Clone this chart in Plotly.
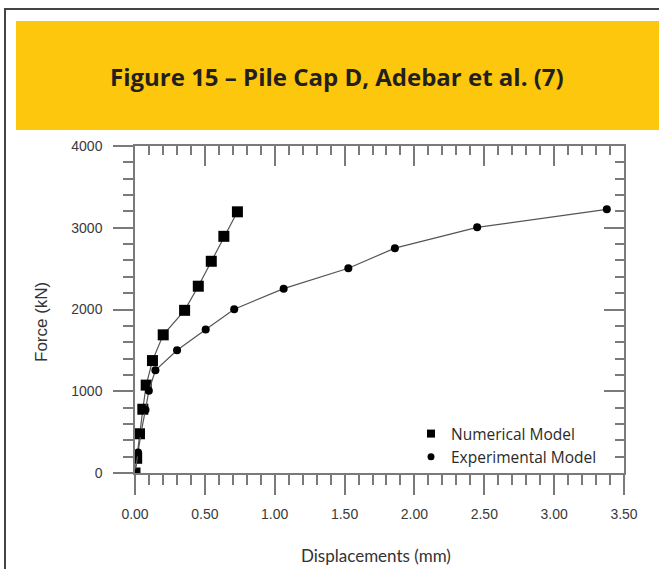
import plotly.graph_objects as go

# ---- data ----
num_disp = [0.0, 0.012, 0.032, 0.056, 0.080, 0.125, 0.202, 0.355, 0.453, 0.546, 0.636, 0.733]
num_force = [0, 180, 480, 780, 1075, 1375, 1690, 1990, 2285, 2590, 2895, 3195]

exp_disp = [0.0, 0.022, 0.043, 0.075, 0.099, 0.146, 0.301, 0.506, 0.710, 1.064, 1.527, 1.860, 2.449, 3.377]
exp_force = [0, 250, 490, 775, 1005, 1257, 1502, 1755, 2004, 2255, 2505, 2750, 3005, 3225]

series_names = ["Numerical Model", "Experimental Model"]
title_text = "Figure 15 – Pile Cap D, Adebar et al. (7)"
x_title = "Displacements (mm)"
y_title = "Force (kN)"

W, H = 659, 569
L, R, T, B = 135, 35, 146, 96
PW, PH = W - L - R, H - T - B


def px(x):
    return (x - L) / PW


def py(y):
    return (H - B - y) / PH


AX = "#7a7a7a"
LINE = "#555555"

fig = go.Figure()
fig.add_trace(go.Scatter(x=num_disp, y=num_force, mode="lines+markers",
                         line=dict(color=LINE, width=1.2),
                         marker=dict(symbol="square", size=11, color="black"),
                         showlegend=False, hoverinfo="skip"))
fig.add_trace(go.Scatter(x=exp_disp, y=exp_force, mode="lines+markers",
                         line=dict(color=LINE, width=1.2),
                         marker=dict(symbol="circle", size=8, color="black"),
                         showlegend=False, hoverinfo="skip"))
# legend entries (markers only)
fig.add_trace(go.Scatter(x=[None], y=[None], mode="markers", name=series_names[0],
                         marker=dict(symbol="square", size=8, color="black")))
fig.add_trace(go.Scatter(x=[None], y=[None], mode="markers", name=series_names[1],
                         marker=dict(symbol="circle", size=7, color="black")))
# carrier for mirrored axes
fig.add_trace(go.Scatter(x=[None], y=[None], xaxis="x2", yaxis="y2", showlegend=False,
                         hoverinfo="skip"))

tickfont = dict(family="Liberation Sans, Arial, sans-serif", size=14, color="#3a3a3a")

fig.update_layout(
    width=W, height=H,
    margin=dict(l=L, r=R, t=T, b=B),
    paper_bgcolor="white", plot_bgcolor="white",
    showlegend=True,
    legend=dict(x=px(411), y=py(417), xanchor="left", yanchor="top",
                bgcolor="rgba(0,0,0,0)", borderwidth=0,
                font=dict(family="Open Sans, sans-serif", size=15.5, color="#2a2a2a"),
                itemwidth=30, tracegroupgap=0),
    xaxis=dict(range=[0, 3.5], tick0=0, dtick=0.5, tickformat=".2f",
               ticks="outside", ticklen=20, tickwidth=1.5, tickcolor=AX,
               minor=dict(dtick=0.1, ticks="outside", ticklen=10, tickwidth=1.5, tickcolor=AX),
               showline=True, linecolor=AX, linewidth=1.5,
               showgrid=False, zeroline=False, tickfont=tickfont,
               ticklabelstandoff=7),
    yaxis=dict(range=[0, 4000], tick0=0, dtick=1000,
               ticks="outside", ticklen=20, tickwidth=1.5, tickcolor=AX,
               minor=dict(dtick=200, ticks="outside", ticklen=10, tickwidth=1.5, tickcolor=AX),
               showline=True, linecolor=AX, linewidth=1.5,
               showgrid=False, zeroline=False, tickfont=tickfont,
               ticklabelstandoff=8),
    xaxis2=dict(range=[0, 3.5], overlaying="x", side="top", tick0=0, dtick=0.5,
                ticks="inside", ticklen=20, tickwidth=1.5, tickcolor=AX,
                minor=dict(dtick=0.1, ticks="inside", ticklen=9, tickwidth=1.5, tickcolor=AX),
                showline=True, linecolor=AX, linewidth=1.5, showticklabels=False,
                showgrid=False, zeroline=False),
    yaxis2=dict(range=[0, 4000], overlaying="y", side="right", tick0=0, dtick=1000,
                ticks="inside", ticklen=20, tickwidth=1.5, tickcolor=AX,
                minor=dict(dtick=200, ticks="inside", ticklen=9, tickwidth=1.5, tickcolor=AX),
                showline=True, linecolor=AX, linewidth=1.5, showticklabels=False,
                showgrid=False, zeroline=False),
)

# outer frame and yellow title band
fig.add_shape(type="rect", xref="paper", yref="paper",
              x0=px(5), x1=px(675), y0=py(590), y1=py(9),
              line=dict(color="#444444", width=2), fillcolor="rgba(0,0,0,0)", layer="below")
fig.add_shape(type="rect", xref="paper", yref="paper",
              x0=px(16), x1=px(670), y0=py(130), y1=py(21),
              line=dict(width=0), fillcolor="#FCC70C", layer="below")

fig.add_annotation(text="<b>" + title_text + "</b>", xref="paper", yref="paper",
                   x=px(337), y=py(77), xanchor="center", yanchor="middle", showarrow=False,
                   font=dict(family="Open Sans, sans-serif", size=24, color="#231f20"))
fig.add_annotation(text=x_title, xref="paper", yref="paper",
                   x=px(376), y=py(555), xanchor="center", yanchor="middle", showarrow=False,
                   font=dict(family="Lato, sans-serif", size=17, color="#333333"))
fig.add_annotation(text=y_title, xref="paper", yref="paper", textangle=-90,
                   x=px(41), y=py(322), xanchor="center", yanchor="middle", showarrow=False,
                   font=dict(family="Liberation Sans, Arial, sans-serif", size=17, color="#333333"))

fig.write_html("out.html", post_script="document.body.style.margin='0';",
               config={"displayModeBar": False})
